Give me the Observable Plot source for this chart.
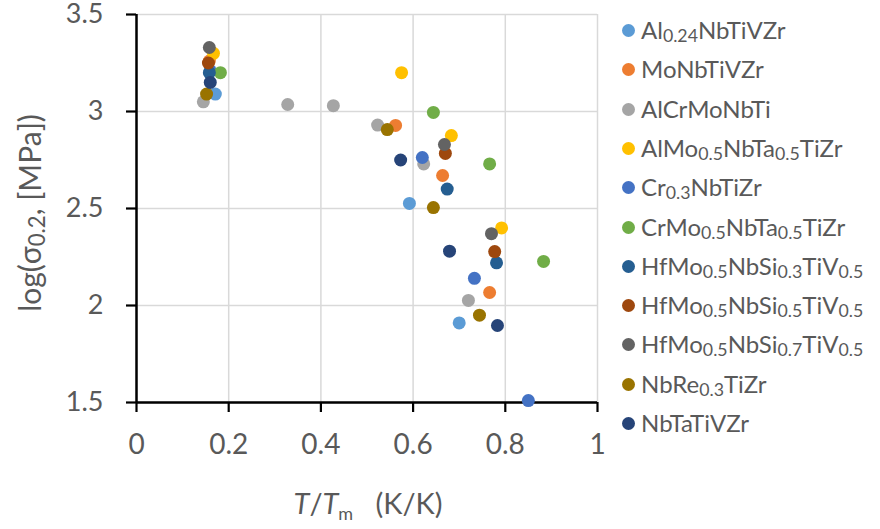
<!DOCTYPE html>
<html>
<head>
<meta charset="utf-8">
<script src="https://cdn.jsdelivr.net/npm/d3@7"></script>
<script src="https://cdn.jsdelivr.net/npm/@observablehq/plot@0.6"></script>
<style>
  html, body { margin: 0; padding: 0; background: #fff; }
  #wrap { position: relative; width: 880px; height: 529px; overflow: hidden; font-family: Lato, "Noto Sans", sans-serif; color: #595959; }
  #legend { position: absolute; left: 620px; top: 0; }
  .lg { position: absolute; white-space: nowrap; font-size: 24px; line-height: 1; }
  .lg .sw { position: absolute; left: 2px; width: 13px; height: 13px; border-radius: 50%; top: -6px; }
  .lg span.t { position: absolute; left: 21px; top: 0; transform: translateY(-52%); }
  .lg sub, #ylab sub { font-size: 0.74em; vertical-align: -0.2em; line-height: 0; }
  #ylab { position: absolute; left: 29px; top: 213px; transform: translate(-50%, -50%) rotate(-90deg); font-size: 30px; white-space: nowrap; }
  #xlab { position: absolute; left: 368px; top: 502px; transform: translate(-50%, -50%); font-size: 29px; white-space: nowrap; }
  #xlab sub { font-size: 18px; vertical-align: -6px; line-height: 0; }
</style>
</head>
<body>
<div id="wrap">
  <div id="plot"></div>
  <div id="legend"></div>
  <div id="ylab">log(σ<sub>0.2</sub>, [MPa])</div>
  <div id="xlab"><i>T</i>/<i>T</i><sub>m</sub>&nbsp;&nbsp; (K/K)</div>
</div>
<script>
// Series names and colours
const seriesNames = [
  "Al<sub>0.24</sub>NbTiVZr",
  "MoNbTiVZr",
  "AlCrMoNbTi",
  "AlMo<sub>0.5</sub>NbTa<sub>0.5</sub>TiZr",
  "Cr<sub>0.3</sub>NbTiZr",
  "CrMo<sub>0.5</sub>NbTa<sub>0.5</sub>TiZr",
  "HfMo<sub>0.5</sub>NbSi<sub>0.3</sub>TiV<sub>0.5</sub>",
  "HfMo<sub>0.5</sub>NbSi<sub>0.5</sub>TiV<sub>0.5</sub>",
  "HfMo<sub>0.5</sub>NbSi<sub>0.7</sub>TiV<sub>0.5</sub>",
  "NbRe<sub>0.3</sub>TiZr",
  "NbTaTiVZr"
];
const seriesColors = ["#5B9BD5", "#ED7D31", "#A5A5A5", "#FFC000", "#4472C4", "#70AD47", "#255E91", "#9E480E", "#636363", "#997300", "#264478"];

// Values (T/Tm, log σ0.2) per series
const al024NbTiVZr = [[0.171, 3.09], [0.592, 2.526], [0.700, 1.91]];
const moNbTiVZr = [[0.158, 3.26], [0.562, 2.928], [0.664, 2.67], [0.766, 2.067]];
const alCrMoNbTi = [[0.145, 3.05], [0.328, 3.036], [0.427, 3.03], [0.523, 2.93], [0.623, 2.73], [0.720, 2.026]];
const alMoNbTaTiZr = [[0.167, 3.30], [0.575, 3.20], [0.683, 2.876], [0.792, 2.40]];
const cr03NbTiZr = [[0.160, 3.21], [0.620, 2.763], [0.733, 2.14], [0.850, 1.51]];
const crMoNbTaTiZr = [[0.182, 3.20], [0.644, 2.995], [0.766, 2.73], [0.883, 2.227]];
const hfSi03 = [[0.158, 3.20], [0.674, 2.60], [0.781, 2.22]];
const hfSi05 = [[0.156, 3.25], [0.670, 2.784], [0.777, 2.278]];
const hfSi07 = [[0.158, 3.33], [0.668, 2.83], [0.770, 2.37]];
const nbRe03TiZr = [[0.152, 3.09], [0.544, 2.907], [0.644, 2.505], [0.744, 1.95]];
const nbTaTiVZr = [[0.160, 3.15], [0.573, 2.75], [0.679, 2.28], [0.783, 1.897]];

const xTicks = [0, 0.2, 0.4, 0.6, 0.8, 1];
const yTicks = [1.5, 2, 2.5, 3, 3.5];

const seriesValues = [al024NbTiVZr, moNbTiVZr, alCrMoNbTi, alMoNbTaTiZr, cr03NbTiZr, crMoNbTaTiZr, hfSi03, hfSi05, hfSi07, nbRe03TiZr, nbTaTiVZr];
const data = seriesValues.flatMap((pts, i) => pts.map(([x, y]) => ({series: seriesNames[i], x, y})));

const chart = Plot.plot({
  width: 880,
  height: 529,
  marginLeft: 136,
  marginRight: 283,
  marginTop: 14,
  marginBottom: 127,
  style: {fontFamily: 'Lato, "Noto Sans", sans-serif', color: "#595959", background: "white", overflow: "visible"},
  x: {domain: [0, 1]},
  y: {domain: [1.5, 3.5]},
  color: {domain: seriesNames, range: seriesColors},
  marks: [
    Plot.gridX(xTicks, {stroke: "#D9D9D9", strokeOpacity: 1, strokeWidth: 1.5}),
    Plot.gridY(yTicks, {stroke: "#D9D9D9", strokeOpacity: 1, strokeWidth: 1.5}),
    Plot.axisX(xTicks, {tickSize: 10, tickPadding: 22, fontSize: 28, stroke: "black", strokeWidth: 2.2, fill: "#595959", label: null, tickFormat: d => String(d)}),
    Plot.axisY(yTicks, {tickSize: 10, tickPadding: 23, fontSize: 27, stroke: "black", strokeWidth: 2.2, fill: "#595959", label: null, tickFormat: d => String(d)}),
    Plot.ruleX([0], {stroke: "black", strokeWidth: 2.5}),
    Plot.ruleY([1.5], {stroke: "black", strokeWidth: 2.5}),
    Plot.dot(data, {x: "x", y: "y", fill: "series", r: 6.5, stroke: null})
  ]
});
document.getElementById("plot").appendChild(chart);

const legend = document.getElementById("legend");
seriesNames.forEach((name, i) => {
  const row = document.createElement("div");
  row.className = "lg";
  row.style.top = (30 + 39.3 * i) + "px";
  row.innerHTML = `<div class="sw" style="background:${seriesColors[i]}"></div><span class="t">${name}</span>`;
  legend.appendChild(row);
});
</script>
</body>
</html>
